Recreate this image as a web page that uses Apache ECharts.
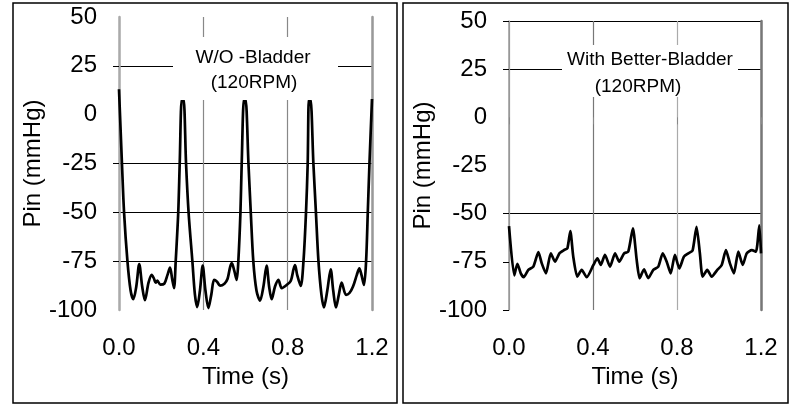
<!DOCTYPE html>
<html>
<head>
<meta charset="utf-8">
<script src="https://cdn.jsdelivr.net/npm/echarts@6/dist/echarts.min.js"></script>
<style>html,body{margin:0;padding:0;background:#fff}#c{width:794px;height:406px}</style>
</head>
<body>
<div id="c"></div>
<script>
// ---- Data ----
const xTicks = [0.0, 0.4, 0.8, 1.2];
const yTicks = [-100, -75, -50, -25, 0, 25, 50];

const leftTitle = ['W/O -Bladder', '(120RPM)'];
const rightTitle = ['With Better-Bladder', '(120RPM)'];
const xName = 'Time (s)';
const yName = 'Pin (mmHg)';

// W/O bladder: time (s)
const timeA = [0.000,0.014,0.024,0.040,0.055,0.068,0.082,0.096,0.110,0.123,0.140,0.155,0.166,0.174,0.182,0.196,0.215,0.230,0.242,0.252,0.261,0.269,0.281,0.288,0.298,0.306,0.318,0.330,0.348,0.360,0.371,0.384,0.397,0.410,0.424,0.438,0.451,0.465,0.479,0.500,0.515,0.527,0.535,0.547,0.558,0.566,0.576,0.582,0.593,0.600,0.614,0.625,0.637,0.652,0.669,0.685,0.700,0.712,0.724,0.740,0.756,0.772,0.795,0.815,0.828,0.835,0.845,0.862,0.875,0.887,0.895,0.901,0.908,0.922,0.934,0.946,0.960,0.972,0.988,1.004,1.016,1.029,1.043,1.056,1.077,1.093,1.110,1.128,1.140,1.150,1.162,1.172,1.180,1.188,1.200];
// W/O bladder: pressure (mmHg)
const pinA = [13,-25,-50,-75,-90,-94.5,-88,-76.5,-88,-95,-86,-82,-84,-86,-85,-87,-86.5,-82,-78.3,-84,-88.8,-75,-50,-25,8,8,-25,-50,-75,-92,-98.5,-90,-77.3,-90,-99,-92,-84.6,-85.5,-87.5,-86.5,-84,-78,-76,-80,-84.6,-75,-50,-25,8,8,-25,-50,-75,-90,-95.2,-88,-77.3,-88,-94.5,-88,-84.6,-88.8,-87.2,-85,-79,-77,-82,-87.7,-75,-50,-25,8,8,-25,-50,-75,-92,-98.7,-90,-79.2,-90,-98.7,-92,-86,-92.3,-91.3,-88,-82,-78.7,-82,-87.2,-75,-50,-25,8];

// With better bladder: time (s)
const timeB = [0.000,0.025,0.040,0.056,0.070,0.092,0.116,0.140,0.156,0.176,0.199,0.219,0.240,0.262,0.278,0.292,0.306,0.325,0.346,0.370,0.402,0.421,0.437,0.457,0.481,0.505,0.525,0.548,0.568,0.590,0.608,0.622,0.643,0.663,0.687,0.711,0.732,0.751,0.770,0.790,0.811,0.833,0.854,0.874,0.893,0.909,0.922,0.944,0.965,0.992,1.013,1.033,1.052,1.071,1.092,1.113,1.132,1.156,1.176,1.192,1.200];
// With better bladder: pressure (mmHg)
const pinB = [-56.5,-82,-76,-81,-83,-79.2,-77.5,-70,-75.8,-81,-70.6,-74.9,-70.6,-68.9,-68,-59,-72.3,-82.7,-79.2,-83,-76.6,-73.2,-76.6,-71.4,-77.5,-70.6,-74.9,-70.6,-69.7,-57.6,-74,-83.5,-78.9,-83.5,-79.2,-77.5,-70.6,-74.9,-81,-71.4,-78.4,-72.3,-70.6,-69.2,-56.8,-70.6,-82.7,-79.2,-82.7,-79.2,-76.6,-68.9,-75.8,-81,-69.7,-76.6,-70.6,-68.9,-69.7,-56,-70.6];

const FONT = "'Liberation Sans', Arial, sans-serif";
const chart = echarts.init(document.getElementById('c'), null, {renderer: 'canvas'});

function xAxisFor(gi, splitColors) {
  return {
    type: 'value', gridIndex: gi, min: 0, max: 1.2, interval: 0.4,
    name: xName, nameLocation: 'middle', nameGap: 50,
    nameTextStyle: {fontFamily: FONT, fontSize: 24, color: '#000'},
    axisLine: {show: false},
    axisTick: {show: true, length: 7, lineStyle: {color: '#888', width: 1}},
    axisLabel: {fontFamily: FONT, fontSize: 24, color: '#000', margin: 26,
      formatter: v => v.toFixed(1)},
    splitLine: {show: true, lineStyle: {color: splitColors, width: 1.2}}
  };
}
function yAxisFor(gi, splitColors, tickVals, gap, edgeColor, edgeWidth) {
  return {
    type: 'value', gridIndex: gi, min: -100, max: 50, interval: 25,
    name: yName, nameLocation: 'middle', nameGap: gap,
    nameTextStyle: {fontFamily: FONT, fontSize: 24, color: '#000'},
    axisLine: {show: true, onZero: false, lineStyle: {color: edgeColor, width: edgeWidth}},
    axisTick: {show: true, length: 6, customValues: tickVals, lineStyle: {color: '#000', width: 1}},
    axisLabel: {fontFamily: FONT, fontSize: 24, color: '#000', margin: 22},
    splitLine: {show: true, lineStyle: {color: splitColors, width: 1}}
  };
}
function rightEdge(gi, color, width) {
  return {
    type: 'value', gridIndex: gi, min: -100, max: 50, interval: 25, position: 'right',
    axisLine: {show: true, onZero: false, lineStyle: {color: color, width: width}},
    axisTick: {show: false}, axisLabel: {show: false}, splitLine: {show: false}
  };
}

function titleGraphics(lines, rect, c1, c2) {
  return [
    {type: 'rect', shape: rect, style: {fill: '#fff'}, z: 50},
    {type: 'text', x: c1[0], y: c1[1], z: 51,
      style: {text: lines[0], font: '19px ' + FONT, fill: '#000', align: 'center', verticalAlign: 'middle'}},
    {type: 'text', x: c2[0], y: c2[1], z: 51,
      style: {text: lines[1], font: '19px ' + FONT, fill: '#000', align: 'center', verticalAlign: 'middle'}}
  ];
}

const option = {
  animation: false,
  backgroundColor: '#fff',
  grid: [
    {left: 119, top: 17, width: 253, height: 293},
    {left: 509, top: 21, width: 252, height: 289}
  ],
  xAxis: [
    xAxisFor(0, ['#999', '#888', '#888', '#999']),
    xAxisFor(1, ['#999', '#777', '#aaa', '#777'])
  ],
  yAxis: [
    yAxisFor(0, ['#000', '#000', '#000', '#000', 'transparent', '#000', '#000'], [25, -25, -50, -75], 71, '#aaa', 2.5),
    yAxisFor(1, ['#000', '#000', '#000', 'transparent', 'transparent', '#000', '#000'], [50, 25, -50, -75, -100], 70, '#999', 1.5),
    rightEdge(0, '#999', 2.5),
    rightEdge(1, '#777', 2.5)
  ],
  series: [
    {type: 'line', xAxisIndex: 0, yAxisIndex: 0, showSymbol: false, smooth: 0.3,
      lineStyle: {color: '#000', width: 2.7}, z: 10,
      data: timeA.map((t, i) => [t, pinA[i]])},
    {type: 'line', xAxisIndex: 1, yAxisIndex: 1, showSymbol: false, smooth: 0.2,
      lineStyle: {color: '#000', width: 2.7}, z: 10,
      data: timeB.map((t, i) => [t, pinB[i]])}
  ],
  graphic: [
    {type: 'rect', shape: {x: 13, y: 3, width: 384, height: 400}, style: {fill: 'none', stroke: '#000', lineWidth: 1.5}, z: 60},
    {type: 'rect', shape: {x: 403, y: 3, width: 385, height: 400}, style: {fill: 'none', stroke: '#000', lineWidth: 1.5}, z: 60},
    ...titleGraphics(leftTitle, {x: 173, y: 37, width: 165, height: 63}, [253, 58], [254, 83]),
    ...titleGraphics(rightTitle, {x: 562, y: 45, width: 176, height: 52}, [650, 60], [638, 87])
  ]
};
chart.setOption(option);
</script>
</body>
</html>
